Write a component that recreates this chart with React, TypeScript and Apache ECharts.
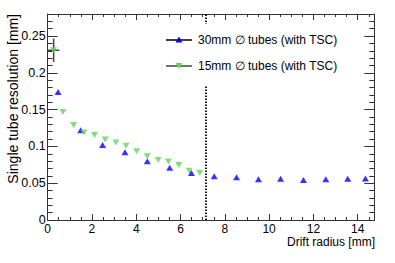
import React, { useEffect, useRef } from "react";
import * as echarts from "echarts";

const xBlue = [0.47, 1.49, 2.48, 3.49, 4.5, 5.51, 6.49, 7.52, 8.53, 9.52, 10.52, 11.55, 12.56, 13.55, 14.35];
const yBlue = [0.174, 0.122, 0.102, 0.092, 0.08, 0.071, 0.064, 0.0595, 0.058, 0.0555, 0.056, 0.0545, 0.0555, 0.056, 0.0565];
const xGreen = [0.27, 0.69, 1.17, 1.64, 2.12, 2.6, 3.08, 3.54, 4.02, 4.5, 4.99, 5.45, 5.92, 6.39, 6.87];
const yGreen = [0.2307, 0.1467, 0.129, 0.119, 0.1154, 0.1094, 0.1053, 0.1008, 0.0936, 0.0868, 0.0817, 0.0794, 0.0749, 0.0668, 0.064];
// error bars: [x, y, xErr, yErr]
const greenErrors = [[0.27, 0.2307, 0.26, 0.016]];
const cutRadius = 7.15;
const seriesNames = ["30mm \u2205 tubes (with TSC)", "15mm \u2205 tubes (with TSC)"];
const xTitle = "Drift radius [mm]";
const yTitle = "Single tube resolution [mm]";

const FONT = "Liberation Sans, Arial, Helvetica, sans-serif";
const BLUE = "#0000ff";
const GREEN = "#5fd65a";
const AX = "#333";

export default function App() {
  const ref = useRef<HTMLDivElement>(null);
  useEffect(() => {
    const chart = echarts.init(ref.current!, null, { renderer: "svg" });
    const baseX = {
      type: "value" as const,
      min: 0,
      max: 14.75,
      interval: 2,
      axisLine: { show: true, onZero: false, lineStyle: { color: AX, width: 1 } },
      axisTick: { show: true, inside: true, length: 6, lineStyle: { color: AX } },
      minorTick: { show: true, splitNumber: 4, length: 3, lineStyle: { color: AX } },
      splitLine: { show: false },
    };
    const baseY = {
      type: "value" as const,
      min: 0,
      max: 0.28,
      interval: 0.05,
      axisLine: { show: true, onZero: false, lineStyle: { color: AX, width: 1 } },
      axisTick: { show: true, inside: true, length: 10, lineStyle: { color: AX } },
      minorTick: { show: true, splitNumber: 5, length: 5, lineStyle: { color: AX } },
      splitLine: { show: false },
    };
    chart.setOption({
      animation: false,
      backgroundColor: "#fff",
      grid: { left: 47.67, right: 20.7, top: 14, bottom: 43, containLabel: false },
      xAxis: [
        {
          ...baseX,
          position: "bottom",
          axisLabel: {
            show: true,
            margin: 3,
            fontSize: 12,
            fontFamily: FONT,
            color: "#000",
            showMaxLabel: false,
            formatter: (v: number) => String(v),
          },
        },
        { ...baseX, position: "top", axisLabel: { show: false } },
      ],
      yAxis: [
        {
          ...baseY,
          position: "left",
          axisLabel: {
            show: true,
            margin: 2,
            fontSize: 12.5,
            fontFamily: FONT,
            color: "#000",
            showMaxLabel: false,
            formatter: (v: number) => String(Math.round(v * 100) / 100),
          },
        },
        { ...baseY, position: "right", axisLabel: { show: false } },
      ],
      series: [
        {
          name: seriesNames[0],
          type: "scatter",
          symbol: "triangle",
          symbolSize: [7, 6],
          itemStyle: { color: BLUE },
          data: xBlue.map((x, i) => [x, yBlue[i]]),
          z: 5,
          markLine: {
            silent: true,
            symbol: "none",
            label: { show: false },
            lineStyle: { color: "#000", width: 1.8, type: [1.5, 1.5] },
            data: [{ xAxis: cutRadius }],
            z: 1,
          },
        },
        {
          name: "errors",
          type: "custom",
          z: 3,
          renderItem: (params: any, api: any) => {
            const x = api.value(0);
            const y = api.value(1);
            const ex = api.value(2);
            const ey = api.value(3);
            const l = api.coord([x - ex, y]);
            const r = api.coord([x + ex, y]);
            const t = api.coord([x, y + ey]);
            const b = api.coord([x, y - ey]);
            const st = { stroke: "#444", lineWidth: 1.5 };
            return {
              type: "group",
              children: [
                { type: "line", shape: { x1: l[0], y1: l[1], x2: r[0], y2: r[1] }, style: st },
                { type: "line", shape: { x1: t[0], y1: t[1], x2: b[0], y2: b[1] }, style: st },
              ],
            };
          },
          data: greenErrors,
        },
        {
          name: seriesNames[1],
          type: "scatter",
          symbol: "triangle",
          symbolRotate: 180,
          symbolSize: [7, 6],
          itemStyle: { color: GREEN },
          data: xGreen.map((x, i) => [x, yGreen[i]]),
          z: 5,
        },
      ],
      graphic: [
        { type: "rect", z: 100, shape: { x: 160, y: 24, width: 185, height: 62 }, style: { fill: "#fff" } },
        { type: "line", z: 101, shape: { x1: 166, y1: 40, x2: 192, y2: 40 }, style: { stroke: "#000", lineWidth: 1.5 } },
        { type: "polygon", z: 102, shape: { points: [[179, 36.5], [182.5, 42.5], [175.5, 42.5]] }, style: { fill: BLUE } },
        { type: "text", z: 101, x: 198, y: 40, style: { text: seriesNames[0], font: `12px ${FONT}`, fill: "#000", textVerticalAlign: "middle" } },
        { type: "line", z: 101, shape: { x1: 166, y1: 66, x2: 192, y2: 66 }, style: { stroke: "#444", lineWidth: 1.5 } },
        { type: "polygon", z: 102, shape: { points: [[175.5, 63], [182.5, 63], [179, 69]] }, style: { fill: GREEN } },
        { type: "text", z: 101, x: 198, y: 66, style: { text: seriesNames[1], font: `12px ${FONT}`, fill: "#000", textVerticalAlign: "middle" } },
        { type: "text", z: 101, x: 375, y: 242, style: { text: xTitle, font: `12px ${FONT}`, fill: "#000", textAlign: "right", textVerticalAlign: "middle" } },
        { type: "text", z: 101, x: 13, y: 14, rotation: Math.PI / 2, style: { text: yTitle, font: `14px ${FONT}`, fill: "#000", textAlign: "right", textVerticalAlign: "middle" } },
      ],
    });
    return () => chart.dispose();
  }, []);
  return <div ref={ref} style={{ position: "fixed", left: 0, top: 0, width: 395, height: 263 }} />;
}
